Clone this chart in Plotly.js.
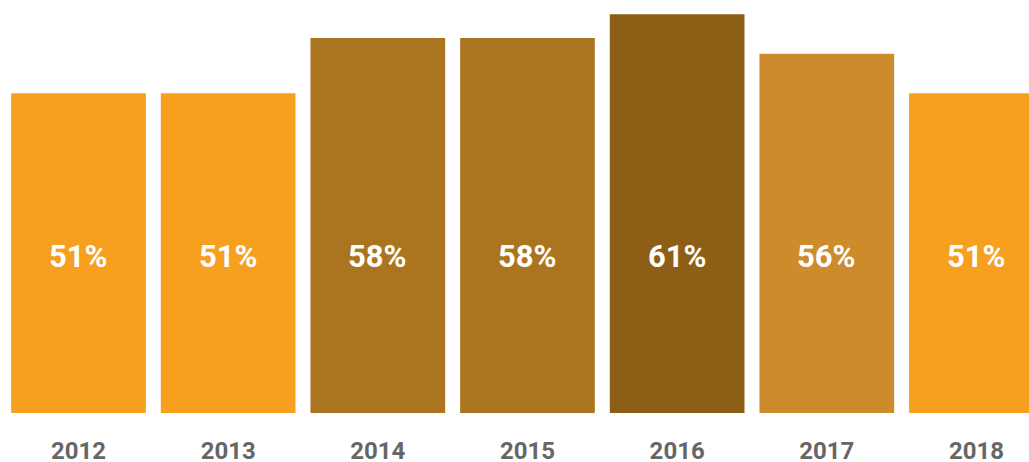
<!DOCTYPE html>
<html>
<head>
<meta charset="utf-8">
<script src="https://cdn.plot.ly/plotly-3.0.1.min.js"></script>
<style>html,body{margin:0;padding:0;background:#fff;}#chart{width:1029px;height:462px;}</style>
</head>
<body>
<div id="chart"></div>
<script>
var years = ["2012", "2013", "2014", "2015", "2016", "2017", "2018"];
var values = [51, 51, 58, 58, 61, 56, 51];
var labels = ["51%", "51%", "58%", "58%", "61%", "56%", "51%"];
var colors = ["#F79F1F", "#F79F1F", "#AB7520", "#AB7520", "#8C5E16", "#CE8B2B", "#F79F1F"];

var trace = {
  type: "bar",
  x: years.map(function (_, i) { return i; }),
  y: values,
  marker: { color: colors, line: { width: 0 } },
  hoverinfo: "none"
};

var annotations = years.map(function (_, i) {
  return {
    x: i, xref: "x", y: 0.378, yref: "paper",
    text: labels[i], showarrow: false,
    font: { family: "Roboto", size: 31, color: "#ffffff", weight: 700 },
    xanchor: "center", yanchor: "middle"
  };
});

var layout = {
  width: 1029, height: 462,
  margin: { l: 0, r: 0, t: 0, b: 49, pad: 0 },
  paper_bgcolor: "#ffffff", plot_bgcolor: "#ffffff",
  bargap: 0.1,
  showlegend: false,
  xaxis: {
    range: [-0.5245, 6.351],
    tickmode: "array",
    tickvals: years.map(function (_, i) { return i; }),
    ticktext: years,
    showgrid: false, zeroline: false, showline: false, ticks: "",
    ticklen: 0,
    ticklabelstandoff: 21,
    automargin: false,
    tickfont: { family: "Roboto", size: 24, color: "#666666", weight: 700 },
    fixedrange: true
  },
  yaxis: {
    range: [10.5, 62.8],
    visible: false, showgrid: false, zeroline: false, fixedrange: true
  },
  annotations: annotations
};

Plotly.newPlot("chart", [trace], layout, { displayModeBar: false, staticPlot: true });
</script>
</body>
</html>
